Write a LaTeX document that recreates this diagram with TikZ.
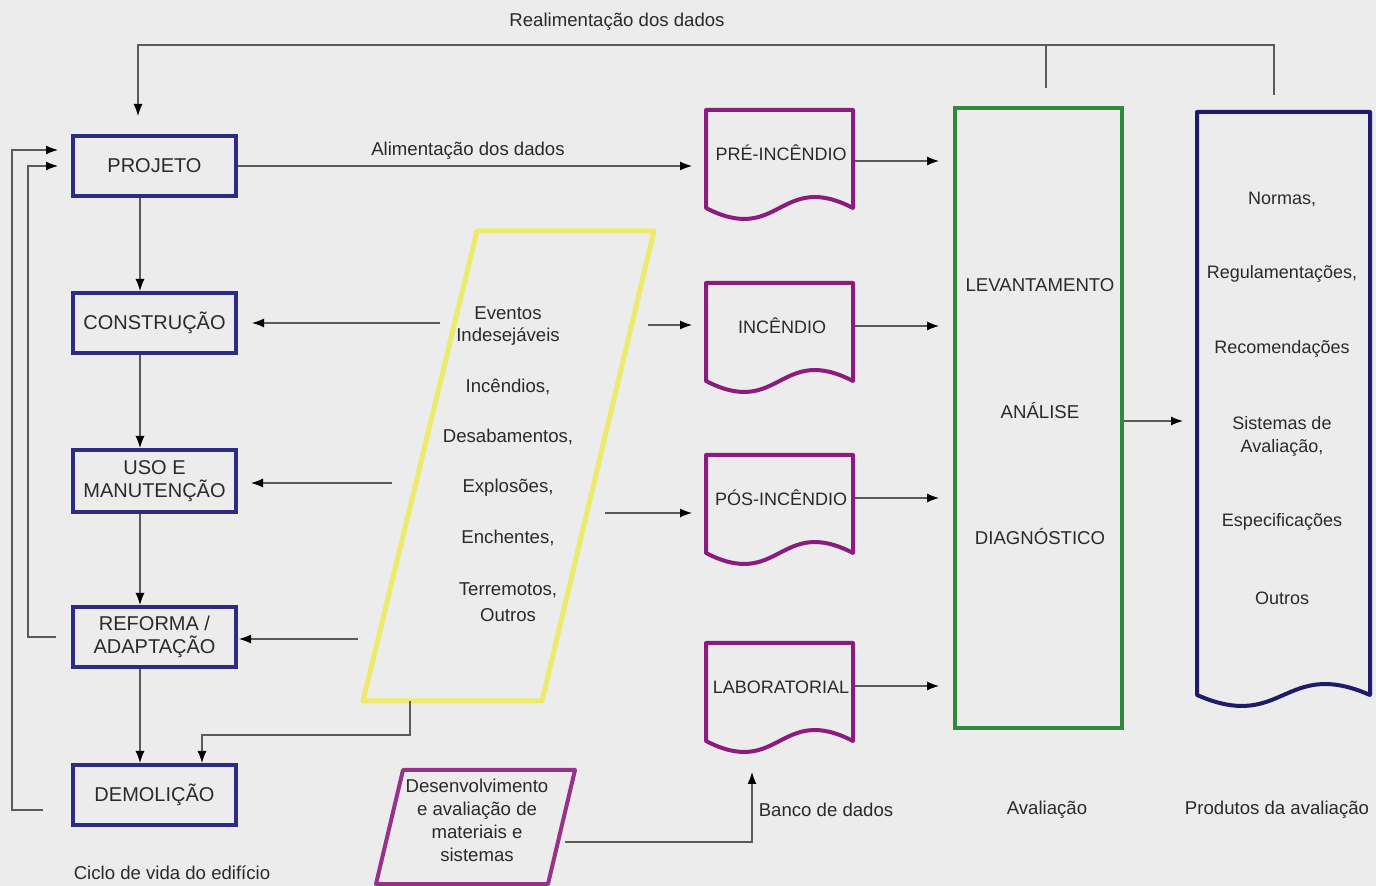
\documentclass[tikz,border=0pt]{standalone}
\usepackage{fontspec}
\setmainfont{Liberation Sans}
\usetikzlibrary{arrows.meta,calc}
\definecolor{bg}{HTML}{ECECEC}
\definecolor{txt}{HTML}{2A2A2A}
\definecolor{lineg}{HTML}{5A5A5A}
\definecolor{navyb}{HTML}{2E2B86}
\definecolor{docpur}{HTML}{8C1B7E}
\definecolor{avgreen}{HTML}{2F8A3C}
\definecolor{yel}{HTML}{EEEA6C}
\definecolor{prodnavy}{HTML}{1F1B68}
\tikzset{
  lcbox/.style={draw=navyb, line width=2pt, minimum width=81.5pt, minimum height=30pt,
    inner sep=0pt, align=center, font=\fontsize{10}{11.5}\selectfont},
  docbox/.style={minimum width=73.5pt, minimum height=49pt, inner sep=0pt, outer sep=0pt},
  docline/.style={draw=docpur, line width=2pt, line join=round},
  doctext/.style={font=\fontsize{9}{11}\selectfont},
  conn/.style={draw=lineg, line width=0.6pt},
  arr/.style={conn, -{Latex[length=6pt,width=4.5pt,color=black]}},
  lbl/.style={font=\fontsize{9.3}{11.5}\selectfont},
  small/.style={font=\fontsize{9}{11.5}\selectfont}
}
\begin{document}
\begin{tikzpicture}[x=0.5pt,y=-0.5pt, text=txt, font=\fontsize{9.3}{11.5}\selectfont]
\fill[bg] (0,0) rectangle (1376,886);
\useasboundingbox (0,0) rectangle (1376,886);

% life cycle boxes
\node[lcbox] (proj) at (154.5,166) {PROJETO};
\node[lcbox] (cons) at (154.5,323) {CONSTRUÇÃO};
\node[lcbox, minimum height=31pt] (uso) at (154.5,481) {USO E\\MANUTENÇÃO};
\node[lcbox] (ref) at (154.5,637) {REFORMA /\\ADAPTAÇÃO};
\node[lcbox] (dem) at (154.5,795) {DEMOLIÇÃO};

\draw[arr] ([xshift=-7.25pt]proj.south) -- ([xshift=-7.25pt]cons.north);
\draw[arr] ([xshift=-7.25pt]cons.south) -- ([xshift=-7.25pt]uso.north);
\draw[arr] ([xshift=-7.25pt]uso.south) -- ([xshift=-7.25pt]ref.north);
\draw[arr] ([xshift=-7.25pt]ref.south) -- ([xshift=-7.25pt]dem.north);

% left feedback loops
\draw[arr, shorten >=6.5pt] ([xshift=-7.5pt]ref.west) -| ([xshift=-21.5pt]proj.west) -- (proj.west);
\draw[arr, shorten >=6.5pt] ([xshift=-14pt,yshift=-7.5pt]dem.west) -| ([xshift=-29.5pt,yshift=8pt]proj.west) -- ([yshift=8pt]proj.west);

\node[lbl] (ciclo) at (172,873) {Ciclo de vida do edifício};

% document shapes
\node[docbox] (pre) at (779.5,159) {};
\node[docbox] (inc) at (779.5,332) {};
\node[docbox] (pos) at (779.5,504) {};
\node[docbox] (lab) at (779.5,692) {};
\foreach \n in {pre,inc,pos,lab}{
  \draw[docline] (\n.north west) -- (\n.south west)
    .. controls +(73.5,38) and +(-73.5,-38) .. (\n.south east) -- (\n.north east) -- cycle;
}
\node[doctext] at (781,153) {PRÉ-INCÊNDIO};
\node[doctext] at (782,326) {INCÊNDIO};
\node[doctext] at (781,498) {PÓS-INCÊNDIO};
\node[doctext] at (781,687) {LABORATORIAL};

% evaluation box
\node[draw=avgreen, line width=2pt, minimum width=83.5pt, minimum height=310pt, inner sep=0pt] (av) at (1038.5,418) {};
\node at (1040,285) {LEVANTAMENTO};
\node at (1040,411) {ANÁLISE};
\node at (1040,537) {DIAGNÓSTICO};
\node[lbl] at (1047,810) {Avaliação};

% products box
\node[minimum width=86.5pt, minimum height=291.5pt, inner sep=0pt, outer sep=0pt] (prod) at (1283.5,403.5) {};
\draw[draw=prodnavy, line width=2pt, line join=round] (prod.north west) -- (prod.south west)
  .. controls +(86.5,38) and +(-86.5,-38) .. (prod.south east) -- (prod.north east) -- cycle;
\node[small] at (1282,199) {Normas,};
\node[small] at (1282,274) {Regulamentações,};
\node[small] at (1282,349) {Recomendações};
\node[small, align=center] at (1282,436) {Sistemas de\\Avaliação,};
\node[small] at (1282,522) {Especificações};
\node[small] at (1282,598) {Outros};
\node[lbl] at (1277,810) {Produtos da avaliação};

% doc -> evaluation
\draw[arr, shorten <=1pt, shorten >=7pt] ([yshift=-1pt]pre.east) -- ([yshift=-1pt]pre.east -| av.west);
\draw[arr, shorten <=1pt, shorten >=7pt] ([yshift=3pt]inc.east) -- ([yshift=3pt]inc.east -| av.west);
\draw[arr, shorten <=1pt, shorten >=7pt] ([yshift=3pt]pos.east) -- ([yshift=3pt]pos.east -| av.west);
\draw[arr, shorten <=1pt, shorten >=7pt] ([yshift=3pt]lab.east) -- ([yshift=3pt]lab.east -| av.west);
\draw[arr, shorten >=7pt] ([yshift=-1.5pt]av.east) -- ([yshift=-1.5pt]av.east -| prod.west);

% data feed
\draw[arr, shorten >=7pt] (proj.east) -- (proj.east -| pre.west);
\node[lbl] at (468,151) {Alimentação dos dados};

% feedback top
\coordinate (fbTL) at (138,45);
\coordinate (avtop) at ([xshift=3.75pt,yshift=9pt]av.north);
\coordinate (prodtop) at ([xshift=-4.75pt,yshift=8.5pt]prod.north);
\draw[arr, shorten >=9pt] (prodtop) |- (fbTL) -- (fbTL |- proj.north);
\draw[conn] (avtop) -- (avtop |- fbTL);
\node[lbl] at (617,22) {Realimentação dos dados};

% undesired events parallelogram
\draw[draw=yel, line width=2.5pt, line join=round] (477,231) -- (654,231) -- (542,701) -- (363,701) -- cycle;
\node at (508,313) {Eventos};
\node at (508,337) {Indesejáveis};
\node at (508,387) {Incêndios,};
\node at (508,437) {Desabamentos,};
\node at (508,488) {Explosões,};
\node at (508,538) {Enchentes,};
\node at (508,590) {Terremotos,};
\node at (508,615) {Outros};

\coordinate (evl1) at (440,323);
\coordinate (evl2) at (392,483);
\coordinate (evl3) at (358,639);
\coordinate (evr1) at (648,325);
\coordinate (evr2) at (605,513);
\coordinate (evb) at (410,701);
\coordinate (evturn) at (202,735);
\draw[arr, shorten >=7pt] (evl1) -- (evl1 -| cons.east);
\draw[arr, shorten >=6.5pt] (evl2) -- (evl2 -| uso.east);
\draw[arr, shorten >=0.5pt] (evl3) -- (evl3 -| ref.east);
\draw[arr, shorten >=7pt] (evr1) -- (evr1 -| inc.west);
\draw[arr, shorten >=7pt] (evr2) -- (evr2 -| pos.west);
\draw[arr] (evb) |- (evturn) -- (evturn |- dem.north);

% development parallelogram
\draw[draw=docpur!90, line width=2pt, line join=round] (403,770) -- (575,770) -- (548,884) -- (376,884) -- cycle;
\node[align=center, anchor=north, inner sep=0pt, font=\fontsize{9.3}{11.5}\selectfont] (dev) at (477,779)
  {Desenvolvimento\\e avaliação de\\materiais e\\sistemas};
\coordinate (devr) at (565,842);
\draw[arr] (devr) -| ([xshift=-13.75pt,yshift=-15.5pt]lab.south);
\node[lbl] at (826,810) {Banco de dados};
\end{tikzpicture}
\end{document}
